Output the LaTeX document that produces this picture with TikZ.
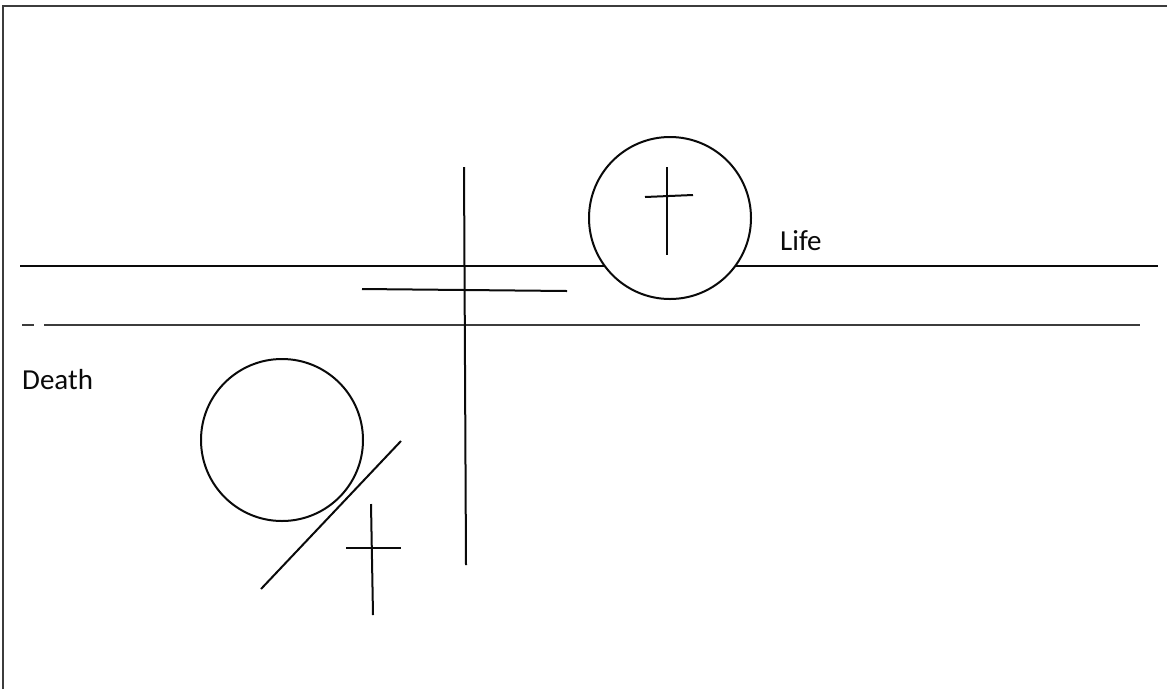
\documentclass[tikz,border=0pt]{standalone}
\usepackage{fontspec}
\setmainfont{Carlito}
\usepackage{tikz}
\usetikzlibrary{positioning}
\definecolor{mydark}{RGB}{10,10,10}
\definecolor{mygrey}{RGB}{60,60,60}
\tikzset{
  stroke/.style={line width=2pt, color=mydark},
  framestroke/.style={line width=2.2pt, color=mygrey},
  underline/.style={line width=1.6pt, color=mygrey},
  ring/.style={circle, draw=mydark, line width=2pt, minimum size=162pt, inner sep=0pt},
  word/.style={font=\fontsize{29}{34}\selectfont, text=mydark, inner sep=0pt}
}

\begin{document}
\begin{tikzpicture}[x=1pt, y=-1pt]
  \useasboundingbox (0,0) rectangle (1167,689);
  % Frame (top and left only)
  \draw[framestroke] (3,689) -- (3,6) -- (1167,6);
  % Upper horizontal line
  \draw[stroke] (20,266) -- (1158,266);
  % Underscore line
  \draw[underline] (22,325) -- (34,325);
  \draw[underline] (44,325) -- (1140,325);
  % Vertical axis and short bar
  \draw[stroke] (464,167) -- (466,565);
  \draw[stroke] (362,289) -- (567,291);
  % Upper circle with cross
  \node[ring, fill=white] (life) at (670,218) {};
  \draw[stroke] (667,167) -- (667,255);
  \draw[stroke] (645,197) -- (693,195);
  \node[word, anchor=base west] (lifelabel) at (780,250) {Life};
  % Lower circle, slash and cross
  \node[ring] (death) at (282,440) {};
  \draw[stroke] (401,441) -- (261,589);
  \draw[stroke] (371,504) -- (373,615);
  \draw[stroke] (346,548) -- (401,548);
  \node[word, anchor=base west] (deathlabel) at (22,389) {Death};
\end{tikzpicture}
\end{document}
